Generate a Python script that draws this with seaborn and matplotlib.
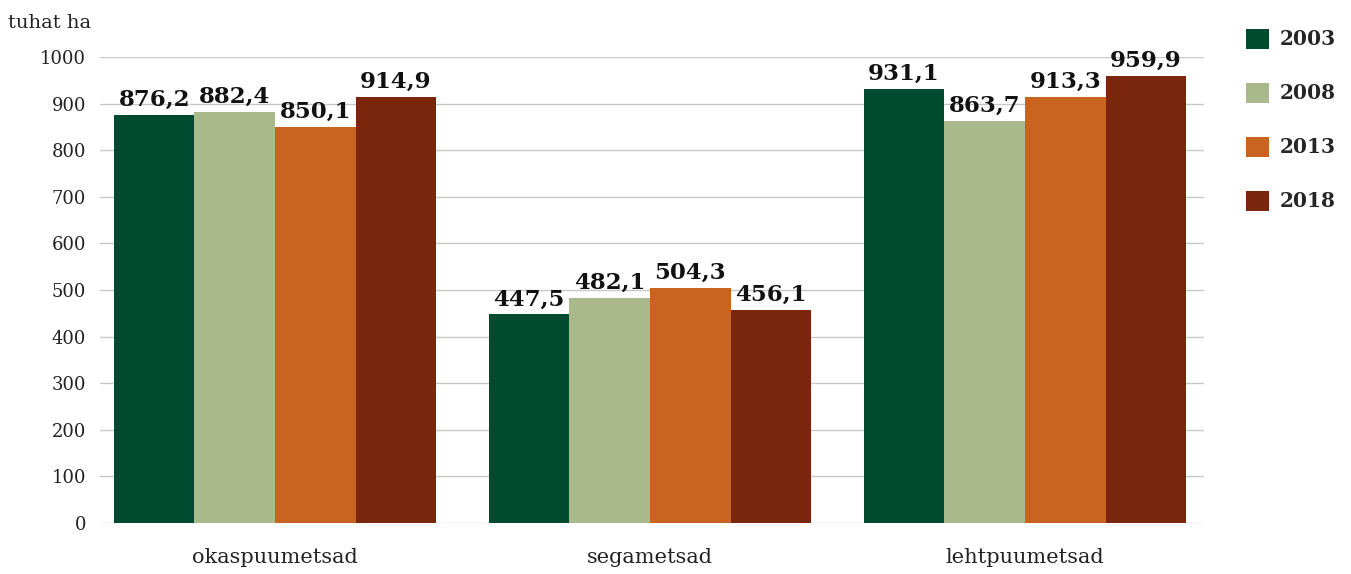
import pandas as pd
import matplotlib
matplotlib.use("Agg")
import matplotlib.pyplot as plt
import seaborn as sns

#data
categories = ["okaspuumetsad", "segametsad", "lehtpuumetsad"]
years = ["2003", "2008", "2013", "2018"]
v2003 = [876.2, 447.5, 931.1]
v2008 = [882.4, 482.1, 863.7]
v2013 = [850.1, 504.3, 913.3]
v2018 = [914.9, 456.1, 959.9]
colors = ["#004B30", "#A9B98C", "#C86420", "#7A260C"]

rows = []
for yr, vals in zip(years, [v2003, v2008, v2013, v2018]):
    for c, v in zip(categories, vals):
        rows.append({"tyyp": c, "aasta": yr, "value": v})
df = pd.DataFrame(rows)

#plot
sns.set_style("white")
plt.rcParams["font.family"] = ["DejaVu Serif"]

fig = plt.figure(figsize=(13.51, 5.74), dpi=100)
ax = fig.add_axes([0.074, 0.0889, 0.817, 0.8118])

sns.barplot(data=df, x="tyyp", y="value", hue="aasta", order=categories,
            hue_order=years, palette=colors, width=0.86, saturation=1,
            edgecolor="none", ax=ax, zorder=3)

for cont in ax.containers:
    labs = [f"{b.get_height():.1f}".replace(".", ",") for b in cont]
    ax.bar_label(cont, labels=labs, padding=3, fontsize=16.5, fontweight="bold",
                 color="#111111", clip_on=False)

ax.set_ylim(0, 1000)
ax.set_xlim(-0.467, 2.477)
ax.set_yticks(range(0, 1001, 100))
ax.yaxis.grid(True, color="#c8c8c8", linewidth=1, zorder=0)
ax.set_axisbelow(True)
for s in ax.spines.values():
    s.set_visible(False)
ax.tick_params(axis="both", length=0, labelsize=13, colors="#222222")
ax.tick_params(axis="y", pad=10)
ax.tick_params(axis="x", labelsize=15, pad=18)
ax.set_xlabel("")
ax.set_ylabel("")
fig.text(0.006, 0.952, "tuhat ha", fontsize=14, color="#222222")

handles, labels = ax.get_legend_handles_labels()
ax.legend(handles, labels, loc="upper left", bbox_to_anchor=(1.022, 1.1),
          frameon=False, prop={"size": 14.5, "weight": "bold"},
          handlelength=1.15, handleheight=1.15, labelspacing=1.65,
          handletextpad=0.5)

plt.savefig("out.png", dpi=100)
